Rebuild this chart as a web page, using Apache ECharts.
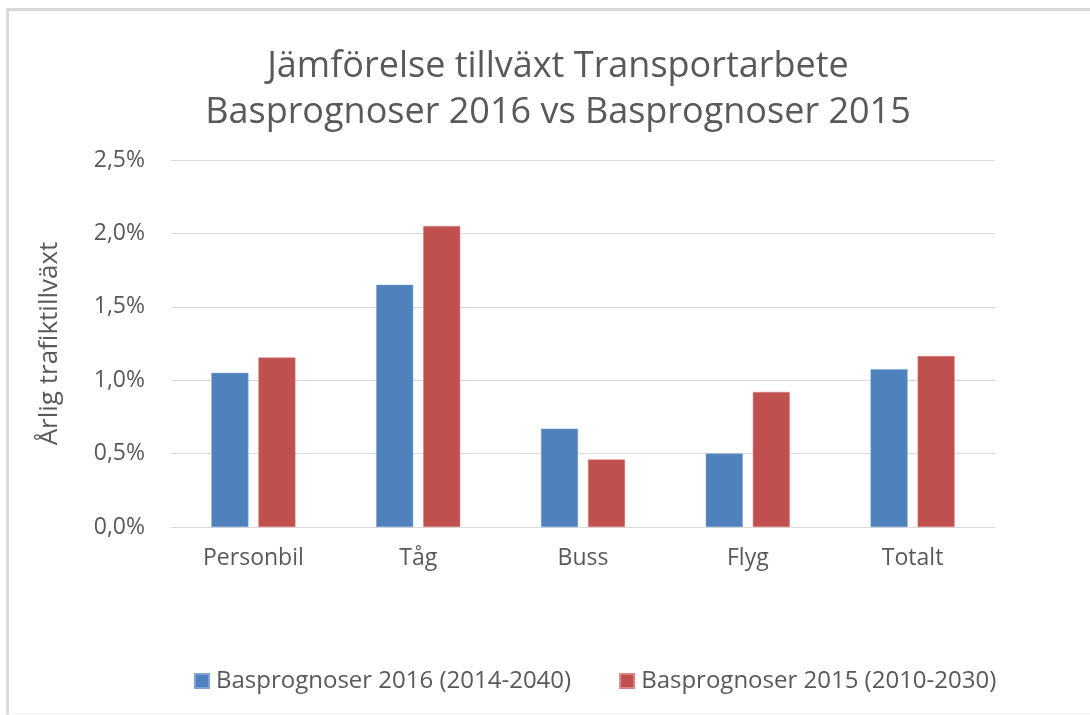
<!DOCTYPE html>
<html>
<head>
<meta charset="utf-8">
<script src="https://cdn.jsdelivr.net/npm/echarts@6/dist/echarts.min.js"></script>
<style>html,body{margin:0;padding:0;background:#fff;}#c{width:1090px;height:715px;}</style>
</head>
<body>
<div id="c"></div>
<script>
var categories = ['Personbil', 'Tåg', 'Buss', 'Flyg', 'Totalt'];
var seriesNames = ['Basprognoser 2016 (2014-2040)', 'Basprognoser 2015 (2010-2030)'];
var values2016 = [1.05, 1.65, 0.67, 0.50, 1.075];
var values2015 = [1.155, 2.05, 0.46, 0.92, 1.165];
var titleText = 'Jämförelse tillväxt Transportarbete\nBasprognoser 2016 vs Basprognoser 2015';
var yAxisName = 'Årlig trafiktillväxt';

var FONT = "'Open Sans', sans-serif";
var chart = echarts.init(document.getElementById('c'));
chart.setOption({
  backgroundColor: '#fff',
  animation: false,
  textStyle: { fontFamily: FONT },
  graphic: [
    { type: 'rect', shape: { x: 6, y: 8, width: 1090, height: 3 }, style: { fill: '#d9d9d9' } },
    { type: 'rect', shape: { x: 6, y: 8, width: 3, height: 710 }, style: { fill: '#d9d9d9' } },
    { type: 'rect', shape: { x: 6, y: 713, width: 1090, height: 1 }, style: { fill: '#f0f0f0' } }
  ],
  title: {
    text: titleText,
    left: 553,
    top: 39,
    textAlign: 'center',
    textStyle: { fontFamily: FONT, fontSize: 36, fontWeight: 'normal', color: '#595959', lineHeight: 46 }
  },
  legend: {
    data: seriesNames,
    top: 664,
    left: 189,
    itemWidth: 14,
    itemHeight: 14,
    itemGap: 48,
    icon: 'rect',
    textStyle: { fontFamily: FONT, fontSize: 24, color: '#595959', padding: [0, 0, 0, 2] }
  },
  grid: { left: 171, right: 95, top: 160, bottom: 188, containLabel: false },
  xAxis: {
    type: 'category',
    data: categories,
    axisLine: { lineStyle: { color: '#d9d9d9', width: 1 } },
    axisTick: { show: false },
    axisLabel: { fontFamily: FONT, fontSize: 23, color: '#595959', margin: 20 }
  },
  yAxis: {
    type: 'value',
    min: 0, max: 2.5, interval: 0.5,
    name: yAxisName,
    nameLocation: 'middle',
    nameGap: 108,
    nameTextStyle: { fontFamily: FONT, fontSize: 26, color: '#595959' },
    axisLine: { show: false },
    axisTick: { show: false },
    splitLine: { lineStyle: { color: '#d9d9d9', width: 1 } },
    axisLabel: {
      fontFamily: FONT, fontSize: 23, color: '#595959', margin: 26,
      formatter: function (v) { return v.toFixed(1).replace('.', ',') + '%'; }
    }
  },
  series: [
    { name: seriesNames[0], type: 'bar', data: values2016, barGap: '27%', barCategoryGap: '49%',
      itemStyle: { color: '#4f81bd', borderColor: '#7fa3d3', borderWidth: 0.5 } },
    { name: seriesNames[1], type: 'bar', data: values2015, barGap: '27%', barCategoryGap: '49%',
      itemStyle: { color: '#c0504d', borderColor: '#d98482', borderWidth: 0.5 } }
  ]
});
</script>
</body>
</html>
